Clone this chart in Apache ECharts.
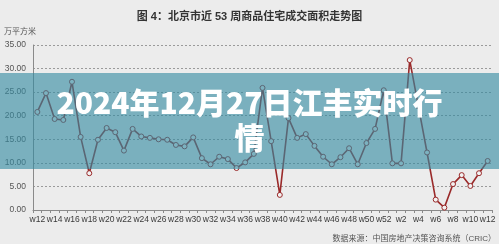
<!DOCTYPE html>
<html>
<head>
<meta charset="utf-8">
<script src="https://cdn.jsdelivr.net/npm/echarts@6/dist/echarts.min.js"></script>
<style>
html,body{margin:0;padding:0;background:#ececec;}
#c{width:499px;height:244px;}
</style>
</head>
<body>
<div id="c"></div>
<script>
var weeks = ['w12','w13','w14','w15','w16','w17','w18','w19','w20','w21','w22','w23','w24','w25','w26','w27','w28','w29','w30','w31','w32','w33','w34','w35','w36','w37','w38','w39','w40','w41','w42','w43','w44','w45','w46','w47','w48','w49','w50','w51','w52','w1','w2','w3','w4','w5','w6','w7','w8','w9','w10','w11','w12'];
var area = [20.8,24.8,19.3,19.1,27.2,15.5,7.8,14.9,17.4,16.5,12.6,17.2,15.6,15.3,15.0,14.9,13.8,13.5,15.4,11.0,9.7,11.3,10.8,8.9,10.1,11.9,25.9,14.6,3.2,19.5,15.3,16.1,13.6,11.3,9.7,11.2,13.1,9.7,14.2,17.2,25.4,9.9,9.9,31.8,22.0,12.2,2.2,0.5,5.5,7.4,5.1,7.8,10.4];
var yTicks = [0,5,10,15,20,25,30,35];
var titleText = '图 4：北京市近 53 周商品住宅成交面积走势图';
var unitText = '万平方米';
var sourceText = '数据来源：中国房地产决策咨询系统（CRIC）';
var bannerText = '2024年12月27日江丰实时行\n情';

var FF = '"Liberation Sans", "Noto Sans CJK SC", sans-serif';
var chart = echarts.init(document.getElementById('c'), null, {renderer:'canvas'});
chart.setOption({
  backgroundColor: '#ececec',
  animation: false,
  title: {
    text: titleText,
    left: 'center',
    top: 6,
    textStyle: {fontSize: 11, fontWeight: 'bold', color: '#333', fontFamily: FF}
  },
  grid: {left: 33, right: 7, top: 45, bottom: 34},
  xAxis: {
    type: 'category',
    data: weeks,
    boundaryGap: true,
    axisLine: {lineStyle: {color: '#8a8a8a', width: 1}},
    axisTick: {show: true, interval: 0, length: 3, lineStyle: {color: '#8a8a8a'}},
    axisLabel: {interval: 1, fontSize: 8.5, color: '#3a3a3a', margin: 5, fontFamily: FF}
  },
  yAxis: {
    type: 'value',
    min: yTicks[0],
    max: yTicks[yTicks.length - 1],
    interval: 5,
    name: unitText,
    nameLocation: 'end',
    nameGap: 9,
    nameTextStyle: {fontSize: 8, color: '#555', align: 'left', padding: [0,0,0,-29], fontFamily: FF},
    axisLine: {show: true, lineStyle: {color: '#8a8a8a'}},
    axisTick: {show: false},
    axisLabel: {fontSize: 8.5, color: '#555', margin: 7, fontFamily: FF,
      formatter: function (v) { return v.toFixed(2); }},
    splitLine: {show: true, lineStyle: {color: '#9a9a9a', type: [2, 2], width: 1}}
  },
  series: [{
    type: 'line',
    data: area,
    symbol: 'circle',
    symbolSize: 5,
    lineStyle: {color: '#9a2a2a', width: 1.6},
    itemStyle: {color: '#f2f2f2', borderColor: '#9a2a2a', borderWidth: 1},
    z: 3
  }],
  graphic: [
    {
      type: 'rect',
      z: 100,
      shape: {x: 0, y: 73, width: 499, height: 96},
      style: {fill: 'rgba(52,139,162,0.62)'}
    },
    {
      type: 'text',
      z: 101,
      x: 249.5,
      y: 120,
      style: {
        text: bannerText,
        fill: '#ffffff',
        fontSize: 30,
        fontWeight: 900,
        fontFamily: '"Noto Sans CJK SC", sans-serif',
        align: 'center',
        verticalAlign: 'middle',
        lineHeight: 35
      }
    },
    {
      type: 'text',
      z: 101,
      x: 496,
      y: 239,
      style: {
        text: sourceText,
        fill: '#555',
        fontSize: 8,
        fontFamily: FF,
        align: 'right',
        verticalAlign: 'middle'
      }
    }
  ]
});
</script>
</body>
</html>
